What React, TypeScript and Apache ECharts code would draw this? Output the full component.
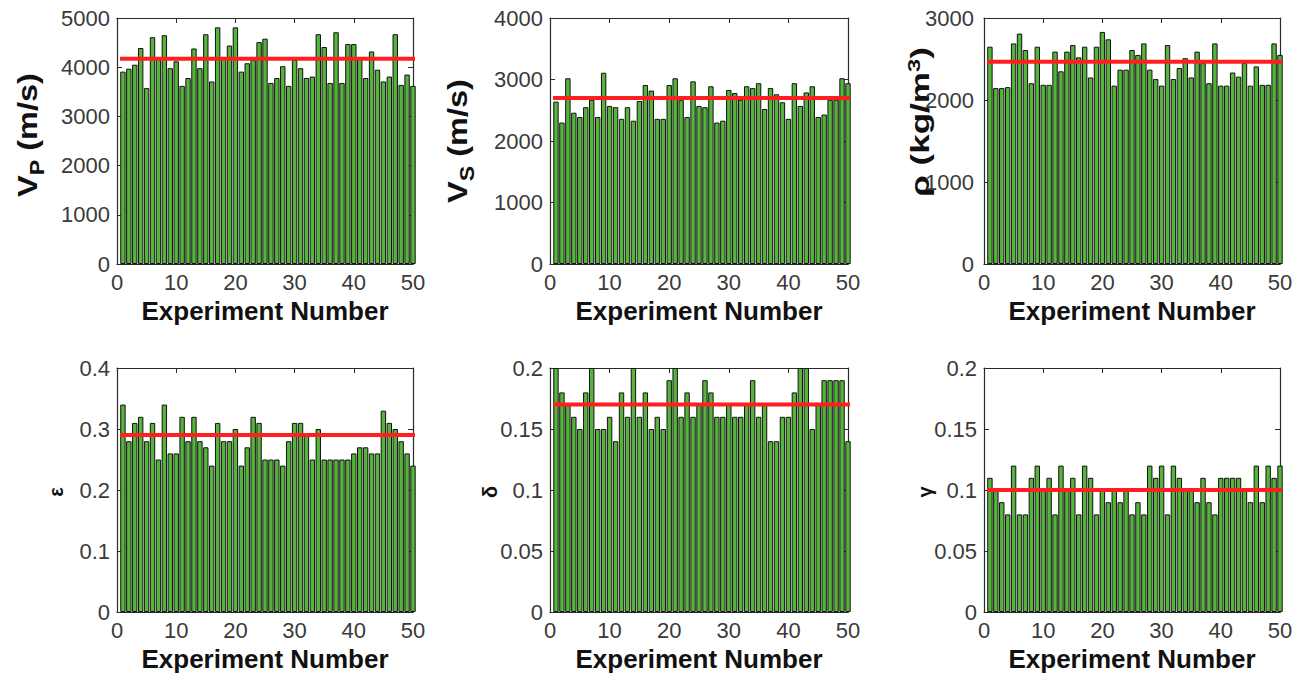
import React, { useEffect, useRef } from "react";
import * as echarts from "echarts";

const experimentNumbers: number[] = Array.from({ length: 50 }, (_, i) => i + 1);

const vpValues = [
  3910, 3970, 4050, 4390, 3575, 4610, 4200, 4650, 3980, 4120,
  3620, 3780, 4380, 3980, 4670, 3710, 4810, 4200, 4440, 4810,
  3910, 4080, 4150, 4510, 4580, 3680, 3780, 4020, 3620, 4150,
  3980, 3780, 3810, 4670, 4410, 3680, 4710, 3680, 4470, 4470,
  4200, 3780, 4320, 3950, 3710, 3810, 4670, 3640, 3850, 3620,
];
const vsValues = [
  2640, 2300, 3020, 2460, 2390, 2550, 2670, 2390, 3110, 2570,
  2550, 2360, 2550, 2330, 2650, 2910, 2820, 2360, 2360, 2910,
  3020, 2670, 2390, 2970, 2570, 2550, 2890, 2300, 2330, 2830,
  2780, 2670, 2890, 2860, 2940, 2520, 2860, 2760, 2630, 2360,
  2940, 2570, 2790, 2890, 2390, 2430, 2670, 2670, 3020, 2940,
];
const rhoValues = [
  2650, 2145, 2145, 2157, 2690, 2810, 2610, 2205, 2650, 2185,
  2185, 2590, 2350, 2590, 2670, 2520, 2650, 2275, 2650, 2830,
  2740, 2175, 2370, 2370, 2610, 2550, 2690, 2370, 2255, 2175,
  2670, 2255, 2390, 2510, 2275, 2590, 2450, 2205, 2690, 2175,
  2175, 2335, 2285, 2450, 2175, 2410, 2185, 2185, 2690, 2550,
];
const epsValues = [
  0.34, 0.28, 0.31, 0.32, 0.28, 0.31, 0.25, 0.34, 0.26, 0.26,
  0.32, 0.28, 0.32, 0.28, 0.27, 0.24, 0.31, 0.28, 0.28, 0.30,
  0.24, 0.27, 0.32, 0.31, 0.25, 0.25, 0.25, 0.24, 0.28, 0.31,
  0.31, 0.29, 0.25, 0.30, 0.25, 0.25, 0.25, 0.25, 0.25, 0.26,
  0.27, 0.27, 0.26, 0.26, 0.33, 0.31, 0.30, 0.28, 0.26, 0.24,
];
const deltaValues = [
  0.20, 0.18, 0.17, 0.16, 0.15, 0.18, 0.20, 0.15, 0.15, 0.16,
  0.14, 0.18, 0.16, 0.20, 0.16, 0.18, 0.15, 0.16, 0.15, 0.19,
  0.20, 0.16, 0.18, 0.16, 0.17, 0.19, 0.18, 0.16, 0.16, 0.17,
  0.16, 0.16, 0.17, 0.19, 0.16, 0.17, 0.14, 0.14, 0.16, 0.16,
  0.18, 0.20, 0.20, 0.15, 0.17, 0.19, 0.19, 0.19, 0.19, 0.14,
];
const gammaValues = [
  0.11, 0.10, 0.09, 0.08, 0.12, 0.08, 0.08, 0.11, 0.12, 0.10,
  0.11, 0.08, 0.12, 0.10, 0.11, 0.08, 0.12, 0.11, 0.08, 0.10,
  0.09, 0.10, 0.09, 0.10, 0.08, 0.09, 0.08, 0.12, 0.11, 0.12,
  0.08, 0.12, 0.11, 0.10, 0.10, 0.09, 0.11, 0.09, 0.08, 0.11,
  0.11, 0.11, 0.11, 0.10, 0.09, 0.12, 0.09, 0.12, 0.11, 0.12,
];

const meanValues = [4170, 2700, 2465, 0.29, 0.17, 0.10];
const yMaxValues = [5000, 4000, 3000, 0.4, 0.2, 0.2];
const yIntervals = [1000, 1000, 1000, 0.1, 0.05, 0.05];
const xTicks = { min: 0, max: 50, interval: 10 };
const xAxisTitle = "Experiment Number";

const allValues = [vpValues, vsValues, rhoValues, epsValues, deltaValues, gammaValues];

const gridBoxes = [
  { left: 117, top: 18, width: 296, height: 246 },
  { left: 550, top: 18, width: 298, height: 246 },
  { left: 984, top: 18, width: 296, height: 246 },
  { left: 117, top: 368, width: 296, height: 244 },
  { left: 550, top: 368, width: 298, height: 244 },
  { left: 984, top: 368, width: 296, height: 244 },
];
const yLabelMargins = [7, 7, 10, 7, 7, 7];

const FONT = "'Liberation Sans', Arial, Helvetica, sans-serif";
const TICK_COLOR = "#3a3a3a";
const AXIS_COLOR = "#2a2a2a";

function fmt(v: number): string {
  return String(parseFloat(v.toFixed(4)));
}

export default function App() {
  const ref = useRef<HTMLDivElement>(null);

  useEffect(() => {
    if (!ref.current) return;
    const chart = echarts.init(ref.current, null, { renderer: "svg" });

    const xAxes: any[] = [];
    const yAxes: any[] = [];
    const series: any[] = [];

    gridBoxes.forEach((_, i) => {
      const tickCommon = { show: true, inside: true, length: 5, lineStyle: { color: AXIS_COLOR, width: 1 } };
      const lineCommon = { show: true, onZero: false, lineStyle: { color: AXIS_COLOR, width: 1.2 } };
      xAxes.push({
        gridIndex: i,
        type: "value",
        position: "bottom",
        min: xTicks.min,
        max: xTicks.max,
        interval: xTicks.interval,
        axisLine: lineCommon,
        axisTick: tickCommon,
        splitLine: { show: false },
        axisLabel: { fontSize: 22, color: TICK_COLOR, fontFamily: FONT, margin: 7, formatter: fmt },
        name: xAxisTitle,
        nameLocation: "middle",
        nameGap: 34,
        nameTextStyle: { fontSize: 26, fontWeight: "bold", color: "#111", fontFamily: FONT },
      });
      xAxes.push({
        gridIndex: i,
        type: "value",
        position: "top",
        min: xTicks.min,
        max: xTicks.max,
        interval: xTicks.interval,
        axisLine: lineCommon,
        axisTick: tickCommon,
        splitLine: { show: false },
        axisLabel: { show: false },
      });
      yAxes.push({
        gridIndex: i,
        type: "value",
        position: "left",
        min: 0,
        max: yMaxValues[i],
        interval: yIntervals[i],
        axisLine: lineCommon,
        axisTick: tickCommon,
        splitLine: { show: false },
        axisLabel: { fontSize: 22, color: TICK_COLOR, fontFamily: FONT, margin: yLabelMargins[i], formatter: fmt },
      });
      yAxes.push({
        gridIndex: i,
        type: "value",
        position: "right",
        min: 0,
        max: yMaxValues[i],
        interval: yIntervals[i],
        axisLine: lineCommon,
        axisTick: tickCommon,
        splitLine: { show: false },
        axisLabel: { show: false },
      });
      series.push({
        type: "bar",
        xAxisIndex: 2 * i,
        yAxisIndex: 2 * i,
        barWidth: 5.4,
        clip: true,
        itemStyle: { color: "#55b53b", borderColor: "#121212", borderWidth: 1 },
        data: experimentNumbers.map((n, k) => [n, allValues[i][k]]),
      });
      series.push({
        type: "line",
        xAxisIndex: 2 * i,
        yAxisIndex: 2 * i,
        symbol: "none",
        clip: true,
        lineStyle: { color: "#ff1f1f", width: 4 },
        data: [
          [0.5, meanValues[i]],
          [50.5, meanValues[i]],
        ],
        z: 5,
      });
    });

    const nameStyle = (text: string, rich: any, size = 28) => ({
      text,
      rich,
      fontFamily: FONT,
      fontWeight: "bold",
      fontSize: size,
      fill: "#111",
      align: "center",
      verticalAlign: "middle",
    });

    const vRich = {
      v: { fontSize: 28, fontWeight: "bold", fontFamily: FONT, lineHeight: 40, verticalAlign: "middle", fill: "#111" },
      s: { fontSize: 20, fontWeight: "bold", fontFamily: FONT, lineHeight: 40, verticalAlign: "bottom", fill: "#111" },
    };

    const graphic = [
      {
        type: "text",
        x: 27,
        y: 135,
        rotation: Math.PI / 2,
        scaleX: 1.16,
        style: nameStyle("{v|V}{s|P}{v| (m/s)}", vRich),
      },
      {
        type: "text",
        x: 457,
        y: 141,
        rotation: Math.PI / 2,
        scaleX: 1.16,
        style: nameStyle("{v|V}{s|S}{v| (m/s)}", vRich),
      },
      {
        type: "text",
        x: 920,
        y: 122,
        rotation: Math.PI / 2,
        scaleX: 1.4,
        style: nameStyle(
          "{v|ρ (kg/m}{p|3}{v|)}",
          {
            v: { fontSize: 25, fontWeight: "bold", fontFamily: FONT, lineHeight: 30, verticalAlign: "middle", fill: "#111" },
            p: { fontSize: 17, fontWeight: "bold", fontFamily: FONT, lineHeight: 30, verticalAlign: "top", fill: "#111" },
          },
          25
        ),
      },
      {
        type: "text",
        x: 56,
        y: 492,
        rotation: Math.PI / 2,
        style: { text: "ε", fontFamily: FONT, fontWeight: "bold", fontSize: 20, fill: "#111", align: "center", verticalAlign: "middle" },
      },
      {
        type: "text",
        x: 490,
        y: 492,
        rotation: Math.PI / 2,
        style: { text: "δ", fontFamily: FONT, fontWeight: "bold", fontSize: 20, fill: "#111", align: "center", verticalAlign: "middle" },
      },
      {
        type: "text",
        x: 925,
        y: 492,
        rotation: Math.PI / 2,
        style: { text: "γ", fontFamily: FONT, fontWeight: "bold", fontSize: 20, fill: "#111", align: "center", verticalAlign: "middle" },
      },
    ];

    chart.setOption({
      animation: false,
      backgroundColor: "#ffffff",
      grid: gridBoxes.map((g) => ({ ...g, containLabel: false })),
      xAxis: xAxes,
      yAxis: yAxes,
      series,
      graphic,
    });

    return () => chart.dispose();
  }, []);

  return (
    <div
      ref={ref}
      style={{ position: "absolute", left: 0, top: 0, width: 1308, height: 678 }}
    />
  );
}
